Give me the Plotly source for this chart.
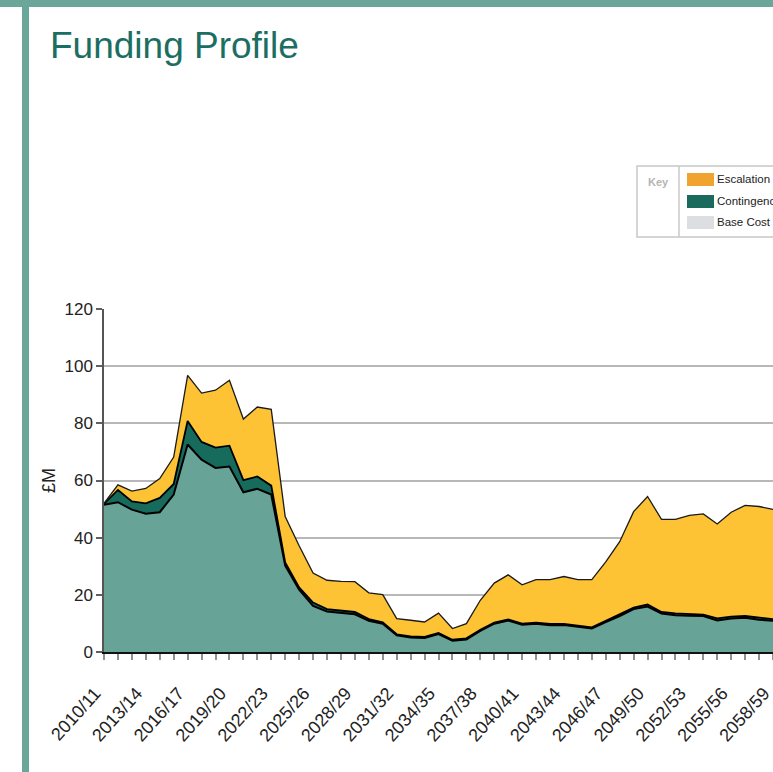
import plotly.graph_objects as go

years = ["2010/11", "2011/12", "2012/13", "2013/14", "2014/15", "2015/16", "2016/17",
         "2017/18", "2018/19", "2019/20", "2020/21", "2021/22", "2022/23", "2023/24",
         "2024/25", "2025/26", "2026/27", "2027/28", "2028/29", "2029/30", "2030/31",
         "2031/32", "2032/33", "2033/34", "2034/35", "2035/36", "2036/37", "2037/38",
         "2038/39", "2039/40", "2040/41", "2041/42", "2042/43", "2043/44", "2044/45",
         "2045/46", "2046/47", "2047/48", "2048/49", "2049/50", "2050/51", "2051/52",
         "2052/53", "2053/54", "2054/55", "2055/56", "2056/57", "2057/58", "2058/59"]

base_cost = [51.5, 52.4, 49.8, 48.4, 48.9, 55.1, 72.6, 67.3, 64.4, 64.9, 55.9, 57.1, 55.1,
             30.2, 21.8, 16.1, 14.2, 13.8, 13.2, 10.9, 9.9, 5.8, 5.1, 4.9, 6.3, 3.9, 4.4,
             7.4, 9.9, 11.0, 9.5, 9.9, 9.4, 9.4, 8.7, 8.2, 10.5, 12.6, 15.0, 15.9, 13.5,
             12.9, 12.7, 12.6, 11.0, 11.7, 12.0, 11.3, 10.9]

contingency = [0.3, 4.3, 2.9, 3.6, 5.0, 3.7, 8.2, 6.2, 7.1, 7.3, 4.2, 4.3, 3.1,
               1.1, 0.8, 1.2, 0.8, 0.8, 0.8, 0.6, 0.5, 0.4, 0.4, 0.4, 0.4, 0.4, 0.4,
               0.4, 0.4, 0.4, 0.4, 0.4, 0.4, 0.4, 0.4, 0.4, 0.4, 0.5, 0.5, 0.7, 0.5,
               0.6, 0.6, 0.5, 0.8, 0.7, 0.6, 0.7, 0.6]

escalation = [0.2, 1.8, 3.6, 5.2, 6.8, 9.4, 16.0, 17.1, 20.1, 22.9, 21.4, 24.3, 26.7,
              16.1, 14.6, 10.3, 10.1, 10.1, 10.6, 9.2, 9.7, 5.5, 5.6, 5.2, 6.9, 3.9, 5.1,
              10.3, 13.8, 15.6, 13.6, 15.0, 15.5, 16.6, 16.2, 16.7, 20.6, 25.5, 33.6, 37.8,
              32.4, 32.9, 34.5, 35.2, 33.0, 36.5, 38.7, 38.9, 38.4]

y_ticks = [0, 20, 40, 60, 80, 100, 120]
legend_labels = ["Escalation", "Contingency", "Base Cost"]

FONT = "Liberation Sans, Arial, sans-serif"
W, H = 773, 772
L, R, T, B = 104, 773, 309, 652


def px(x):
    return (x - L) / (R - L)


def py(y):
    return (B - y) / (B - T)


fig = go.Figure()
fig.add_trace(go.Scatter(x=years, y=base_cost, stackgroup="s", mode="lines",
                         line=dict(color="#000000", width=2),
                         fillcolor="#68a398", name="Base Cost"))
fig.add_trace(go.Scatter(x=years, y=contingency, stackgroup="s", mode="lines",
                         line=dict(color="#000000", width=1.8),
                         fillcolor="#176b5c", name="Contingency"))
fig.add_trace(go.Scatter(x=years, y=escalation, stackgroup="s", mode="lines",
                         line=dict(color="#1a1a1a", width=1.3),
                         fillcolor="#fdc335", name="Escalation"))

ticktext = [y if i % 3 == 0 else "" for i, y in enumerate(years)]

shapes = []
# page decorations
shapes.append(dict(type="rect", xref="paper", yref="paper", x0=px(-5), x1=px(800),
                   y0=py(7), y1=py(-5), fillcolor="#6aa79a", line=dict(width=0), layer="above"))
shapes.append(dict(type="rect", xref="paper", yref="paper", x0=px(22), x1=px(29),
                   y0=py(800), y1=py(5), fillcolor="#6aa79a", line=dict(width=0), layer="above"))
# legend box
shapes.append(dict(type="rect", xref="paper", yref="paper", x0=px(637), x1=px(820),
                   y0=py(237), y1=py(166), fillcolor="white",
                   line=dict(color="#c8c8c8", width=1.5)))
shapes.append(dict(type="line", xref="paper", yref="paper", x0=px(679), x1=px(679),
                   y0=py(237), y1=py(166), line=dict(color="#c8c8c8", width=1.5)))
swatch_colors = ["#f0a32e", "#1a6b5e", "#dcdee1"]
swatch_y = [179.5, 201.5, 222.5]
for c, yc in zip(swatch_colors, swatch_y):
    shapes.append(dict(type="rect", xref="paper", yref="paper", x0=px(687), x1=px(714),
                       y0=py(yc + 6.5), y1=py(yc - 6.5), fillcolor=c, line=dict(width=0)))

annotations = [
    dict(text="Funding Profile", xref="paper", yref="paper", x=px(48), y=py(45),
         xanchor="left", yanchor="middle", showarrow=False,
         font=dict(family=FONT, size=37, color="#1c6e62")),
    dict(text="<b>Key</b>", xref="paper", yref="paper", x=px(658), y=py(182),
         xanchor="center", yanchor="middle", showarrow=False,
         font=dict(family=FONT, size=11, color="#b4b4b4")),
]
for lab, yc in zip(legend_labels, swatch_y):
    annotations.append(dict(text=lab, xref="paper", yref="paper", x=px(715), y=py(yc - 1),
                            xanchor="left", yanchor="middle", showarrow=False,
                            font=dict(family=FONT, size=11.5, color="#222222")))

fig.update_layout(
    width=W, height=H,
    margin=dict(l=L, r=W - R, t=T, b=H - B, pad=0),
    paper_bgcolor="white", plot_bgcolor="white",
    showlegend=False,
    font=dict(family=FONT, size=16, color="#222222"),
    shapes=shapes, annotations=annotations,
    xaxis=dict(type="category", range=[0, 48], tickmode="array", tickvals=years,
               ticktext=ticktext, tickangle=-48, ticks="outside", ticklen=6,
               tickwidth=1.5, tickcolor="#909090", showgrid=False,
               showline=True, linecolor="#111111", linewidth=1.5,
               ticklabelstandoff=16, ticklabelshift=-9,
               tickfont=dict(family=FONT, size=18, color="#222222"), automargin=False),
    yaxis=dict(range=[0, 120], tickvals=y_ticks, ticks="outside", ticklen=6,
               tickwidth=1.5, tickcolor="#606060", showgrid=True, gridcolor="#b8b8b8",
               gridwidth=1.5, showline=True, linecolor="#555555", linewidth=1.5,
               zeroline=False, tickfont=dict(family=FONT, size=17, color="#222222"),
               title=dict(text="£M", font=dict(family=FONT, size=18, color="#222222"),
                          standoff=4), automargin=False),
)

fig.write_html("out.html", config={"displayModeBar": False},
               post_script="document.body.style.margin='0';"
                           "document.body.style.overflow='hidden';")
